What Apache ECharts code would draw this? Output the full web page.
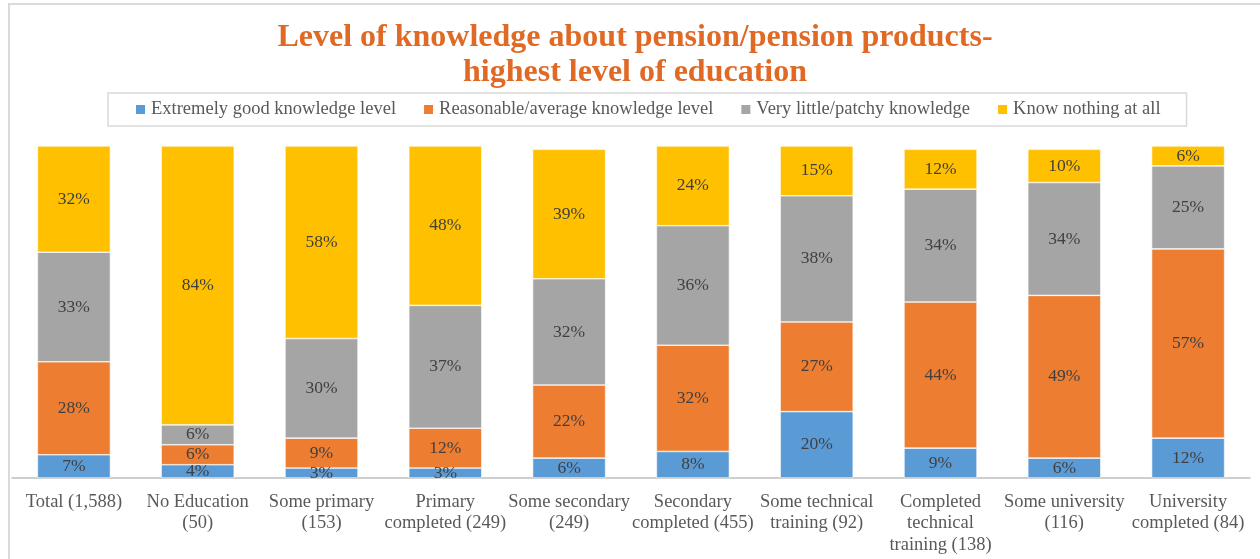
<!DOCTYPE html>
<html>
<head>
<meta charset="utf-8">
<script src="https://cdn.jsdelivr.net/npm/echarts@6/dist/echarts.min.js"></script>
<style>
  html, body { margin: 0; padding: 0; background: #ffffff; }
  #chart { width: 1260px; height: 559px; }
</style>
</head>
<body>
<div id="chart"></div>
<script>
// Education groups (sample size in brackets)
const categories = [
  'Total (1,588)',
  'No Education\n(50)',
  'Some primary\n(153)',
  'Primary\ncompleted (249)',
  'Some secondary\n(249)',
  'Secondary\ncompleted (455)',
  'Some technical\ntraining (92)',
  'Completed\ntechnical\ntraining (138)',
  'Some university\n(116)',
  'University\ncompleted (84)'
];

// Share of respondents (%) per knowledge level
const extremelyGood = [7, 4, 3, 3, 6, 8, 20, 9, 6, 12];
const reasonable    = [28, 6, 9, 12, 22, 32, 27, 44, 49, 57];
const veryLittle    = [33, 6, 30, 37, 32, 36, 38, 34, 34, 25];
const knowNothing   = [32, 84, 58, 48, 39, 24, 15, 12, 10, 6];

const seriesNames = [
  'Extremely good knowledge level',
  'Reasonable/average knowledge level',
  'Very little/patchy knowledge',
  'Know nothing at all'
];
const seriesColors = ['#5B9BD5', '#ED7D31', '#A5A5A5', '#FFC000'];
const seriesData = [extremelyGood, reasonable, veryLittle, knowNothing];

const serif = '"Liberation Serif", "DejaVu Serif", serif';

const chart = echarts.init(document.getElementById('chart'), null, { renderer: 'canvas' });

chart.setOption({
  backgroundColor: '#ffffff',
  animation: false,
  title: {
    text: 'Level of knowledge about pension/pension products-\nhighest level of education',
    left: 630,
    textAlign: 'center',
    top: 15,
    textStyle: {
      fontFamily: serif,
      fontSize: 32,
      fontWeight: 'bold',
      color: '#E06A25',
      lineHeight: 35
    }
  },
  legend: {
    top: 93,
    left: 108,
    data: seriesNames,
    icon: 'rect',
    itemWidth: 11,
    itemHeight: 11,
    itemGap: 26,
    padding: [7, 26, 7, 26],
    borderColor: '#d9d9d9',
    borderWidth: 1.5,
    textStyle: { fontFamily: serif, fontSize: 18.5, color: '#595959' }
  },
  grid: { left: 12, right: 10, top: 146, bottom: 81 },
  xAxis: {
    type: 'category',
    data: categories,
    axisLine: { lineStyle: { color: '#bfbfbf', width: 1.5 } },
    axisTick: { length: 7, lineStyle: { color: '#bfbfbf', width: 1.5 } },
    axisLabel: {
      interval: 0,
      margin: 13,
      fontFamily: serif,
      fontSize: 18.5,
      lineHeight: 21.5,
      color: '#595959'
    }
  },
  yAxis: {
    type: 'value',
    min: 0,
    max: 100,
    show: false,
    splitLine: { show: false }
  },
  graphic: [{
    type: 'polyline',
    silent: true,
    shape: { points: [[9, 559], [9, 4], [1260, 4]] },
    style: { stroke: '#d9d9d9', lineWidth: 2, fill: null }
  }],
  series: seriesData.map((vals, i) => ({
    name: seriesNames[i],
    type: 'bar',
    stack: 'share',
    barCategoryGap: '41%',
    data: vals,
    itemStyle: { color: seriesColors[i], borderColor: '#ffffff', borderWidth: 0.6 },
    label: {
      show: true,
      position: 'inside',
      formatter: p => p.value + '%',
      fontFamily: serif,
      fontSize: 17.5,
      color: '#404040'
    }
  }))
});
</script>
</body>
</html>
